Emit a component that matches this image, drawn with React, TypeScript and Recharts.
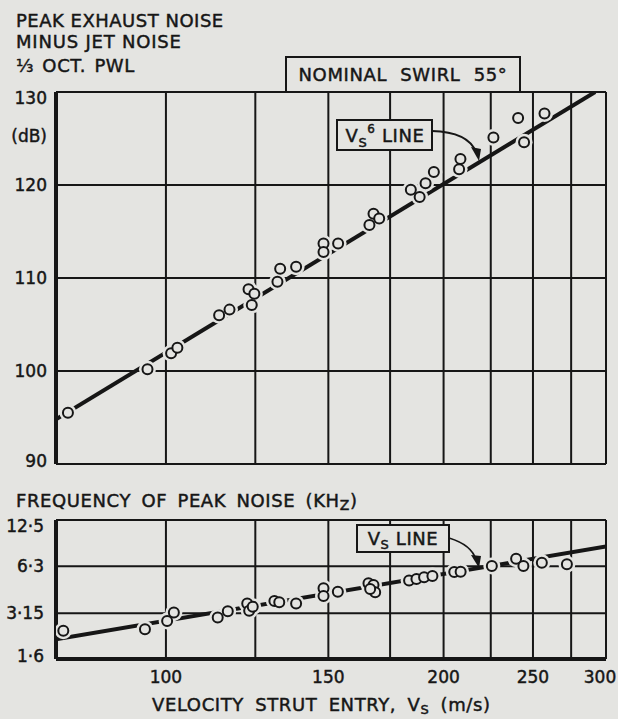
import React from 'react';
import { ComposedChart, Scatter, Line, XAxis, YAxis, CartesianGrid } from 'recharts';

// ---------- data ----------
const xGridTicks = [100, 125, 150, 175, 200, 225, 250, 275, 300];
const xTickLabels = [100, 150, 200, 250, 300];
const dbTicks = [90, 100, 110, 120, 130];
const freqTicks = [1.6, 3.15, 6.3, 12.5];
const freqTickLabels = ['1·6', '3·15', '6·3', '12·5'];

// peak exhaust noise minus jet noise, 1/3 oct PWL (dB) vs strut entry velocity (m/s)
const noisePoints = [
  { x: 78.3, y: 95.5 },
  { x: 95.5, y: 100.2 },
  { x: 101.3, y: 101.9 },
  { x: 102.9, y: 102.5 },
  { x: 114.2, y: 106.0 },
  { x: 117.2, y: 106.6 },
  { x: 122.9, y: 108.8 },
  { x: 124.7, y: 108.3 },
  { x: 123.9, y: 107.1 },
  { x: 132.1, y: 109.6 },
  { x: 133.0, y: 111.0 },
  { x: 138.4, y: 111.2 },
  { x: 148.2, y: 113.7 },
  { x: 148.2, y: 112.8 },
  { x: 153.7, y: 113.7 },
  { x: 166.2, y: 115.7 },
  { x: 167.9, y: 116.9 },
  { x: 170.3, y: 116.4 },
  { x: 184.3, y: 119.5 },
  { x: 188.4, y: 118.7 },
  { x: 191.2, y: 120.2 },
  { x: 195.2, y: 121.4 },
  { x: 207.9, y: 121.7 },
  { x: 208.6, y: 122.8 },
  { x: 226.5, y: 125.1 },
  { x: 240.9, y: 127.2 },
  { x: 244.5, y: 124.6 },
  { x: 257.3, y: 127.7 },
];
const v6Line = [
  { x: 76, y: 94.8 },
  { x: 292, y: 130 },
];

// frequency of peak noise (kHz) vs strut entry velocity (m/s)
const freqPoints = [
  { x: 77.4, y: 2.43 },
  { x: 94.9, y: 2.48 },
  { x: 100.3, y: 2.81 },
  { x: 102.0, y: 3.18 },
  { x: 113.8, y: 2.96 },
  { x: 116.7, y: 3.24 },
  { x: 122.5, y: 3.64 },
  { x: 123.1, y: 3.27 },
  { x: 124.2, y: 3.47 },
  { x: 131.1, y: 3.77 },
  { x: 132.7, y: 3.7 },
  { x: 138.4, y: 3.64 },
  { x: 148.2, y: 4.55 },
  { x: 148.2, y: 4.06 },
  { x: 153.6, y: 4.33 },
  { x: 165.8, y: 4.9 },
  { x: 167.9, y: 4.78 },
  { x: 168.6, y: 4.29 },
  { x: 166.5, y: 4.5 },
  { x: 183.5, y: 5.11 },
  { x: 186.9, y: 5.22 },
  { x: 190.5, y: 5.36 },
  { x: 194.5, y: 5.46 },
  { x: 205.4, y: 5.79 },
  { x: 208.7, y: 5.81 },
  { x: 225.6, y: 6.33 },
  { x: 239.7, y: 7.04 },
  { x: 244.1, y: 6.33 },
  { x: 255.6, y: 6.64 },
  { x: 272.1, y: 6.49 },
];
const vLine = [
  { x: 76, y: 2.14 },
  { x: 300, y: 8.45 },
];

// ---------- styles ----------
const BG = '#e4e4e1';
const INK = '#161616';
const FONT = '"DejaVu Sans", "Liberation Sans", sans-serif';

const Halo = (p: any) => <circle cx={p.cx} cy={p.cy} r={8.5} fill={BG} />;
const Ring = (p: any) => (
  <circle cx={p.cx} cy={p.cy} r={5} fill={BG} stroke={INK} strokeWidth={2} />
);

const inkText = { fill: INK, stroke: INK, strokeWidth: 0.45 } as const;

const makeYTick = (labels: (v: number) => string, max: number, min: number) => (props: any) => {
  const v = props.payload.value;
  const dy = v === max ? 6 : v === min ? -3 : 0;
  return (
    <text
      x={props.x}
      y={props.y + dy}
      textAnchor="end"
      dominantBaseline="central"
      fontFamily={FONT}
      fontSize={17}
      {...inkText}
    >
      {labels(v)}
    </text>
  );
};

const dbTick = makeYTick((v) => String(v), 130, 90);
const freqTick = makeYTick((v) => freqTickLabels[freqTicks.indexOf(v)] ?? String(v), 12.5, 1.6);

const NoTick = () => <g />;

const XTick = (props: any) => {
  const v = props.payload.value;
  if (!xTickLabels.includes(v)) return <g />;
  const dx = v === 300 ? -6 : 0;
  return (
    <text
      x={props.x + dx}
      y={props.y + 24}
      textAnchor="middle"
      fontFamily={FONT}
      fontSize={17}
      {...inkText}
    >
      {v}
    </text>
  );
};

const textStyle = {
  fontFamily: FONT,
  fontSize: 18,
  letterSpacing: 0.6,
  ...inkText,
} as const;

export default function App() {
  return (
    <div
      style={{
        position: 'absolute',
        left: 0,
        top: 0,
        width: 618,
        height: 719,
        background: BG,
        overflow: 'hidden',
      }}
    >
      <div style={{ position: 'absolute', left: 0, top: 0 }}>
        <ComposedChart width={618} height={480} margin={{ top: 92, right: 12, bottom: 16, left: 0 }}>
          <CartesianGrid stroke={INK} strokeWidth={2} />
          <XAxis
            dataKey="x"
            type="number"
            scale="log"
            domain={[76, 300]}
            allowDataOverflow
            ticks={xGridTicks}
            tick={NoTick}
            tickLine={false}
            tickSize={0}
            height={0}
            axisLine={{ stroke: INK, strokeWidth: 4 }}
          />
          <YAxis
            dataKey="y"
            type="number"
            domain={[90, 130]}
            allowDataOverflow
            ticks={dbTicks}
            tick={dbTick}
            tickLine={false}
            tickSize={0}
            tickMargin={9}
            width={56}
            axisLine={{ stroke: INK, strokeWidth: 4 }}
          />
          <Line
            data={v6Line}
            dataKey="y"
            type="linear"
            stroke={INK}
            strokeWidth={4}
            dot={false}
            activeDot={false}
            isAnimationActive={false}
          />
          <Scatter data={noisePoints} shape={Halo} isAnimationActive={false} />
          <Scatter data={noisePoints} shape={Ring} isAnimationActive={false} />
        </ComposedChart>
      </div>

      <div style={{ position: 'absolute', left: 0, top: 480 }}>
        <ComposedChart width={618} height={239} margin={{ top: 40, right: 12, bottom: 30, left: 0 }}>
          <CartesianGrid stroke={INK} strokeWidth={2} />
          <XAxis
            dataKey="x"
            type="number"
            scale="log"
            domain={[76, 300]}
            allowDataOverflow
            ticks={xGridTicks}
            tick={XTick}
            tickLine={false}
            tickSize={0}
            tickMargin={0}
            height={30}
            axisLine={{ stroke: INK, strokeWidth: 4 }}
          />
          <YAxis
            dataKey="y"
            type="number"
            scale="log"
            domain={[1.6, 12.5]}
            allowDataOverflow
            ticks={freqTicks}
            tick={freqTick}
            tickLine={false}
            tickSize={0}
            tickMargin={12}
            width={56}
            axisLine={{ stroke: INK, strokeWidth: 4 }}
          />
          <Line
            data={vLine}
            dataKey="y"
            type="linear"
            stroke={INK}
            strokeWidth={4}
            dot={false}
            activeDot={false}
            isAnimationActive={false}
          />
          <Scatter data={freqPoints} shape={Halo} isAnimationActive={false} />
          <Scatter data={freqPoints} shape={Ring} isAnimationActive={false} />
        </ComposedChart>
      </div>

      <svg
        width={618}
        height={719}
        style={{ position: 'absolute', left: 0, top: 0, pointerEvents: 'none' }}
      >
        {/* panel title */}
        <text x={16} y={27} {...textStyle} letterSpacing={0.5}>PEAK EXHAUST NOISE</text>
        <text x={16} y={48} {...textStyle} letterSpacing={0.8}>MINUS JET NOISE</text>
        <text x={16} y={72} {...textStyle} wordSpacing={2}>⅓ OCT. PWL</text>
        <text x={47} y={142} textAnchor="end" fontFamily={FONT} fontSize={17} {...inkText}>(dB)</text>

        {/* nominal swirl box */}
        <rect x={286} y={57} width={234} height={35} fill={BG} stroke={INK} strokeWidth={2} />
        <text x={403} y={81} textAnchor="middle" {...textStyle} wordSpacing={7}>NOMINAL SWIRL 55°</text>

        {/* Vs^6 line label */}
        <rect x={337} y={120} width={95} height={30} fill={BG} stroke={INK} strokeWidth={2} />
        <text x={385} y={142} textAnchor="middle" {...textStyle}>
          V<tspan fontSize={13} dy={5}>S</tspan>
          <tspan fontSize={12} dy={-14}>6</tspan>
          <tspan dy={9}> LINE</tspan>
        </text>
        <path d="M432,131 Q468,132 476,152" fill="none" stroke={INK} strokeWidth={1.8} />
        <polygon points="471,147 481,149 479,161" fill={INK} />

        {/* frequency panel title */}
        <text x={16} y={507} {...textStyle} wordSpacing={4}>
          FREQUENCY OF PEAK NOISE (KH<tspan fontSize={14} dy={3}>Z</tspan>
          <tspan dy={-3}>)</tspan>
        </text>

        {/* Vs line label */}
        <rect x={357} y={525} width={92} height={27} fill={BG} stroke={INK} strokeWidth={2} />
        <text x={403} y={545} textAnchor="middle" {...textStyle}>
          V<tspan fontSize={13} dy={4}>S</tspan>
          <tspan dy={-4}> LINE</tspan>
        </text>
        <path d="M449,538 Q472,545 476,560" fill="none" stroke={INK} strokeWidth={1.8} />
        <polygon points="471,555 481,556 479,568" fill={INK} />

        {/* x axis title */}
        <text x={152} y={711} {...textStyle} wordSpacing={5}>
          VELOCITY STRUT ENTRY, V<tspan fontSize={13} dy={3}>S</tspan>
          <tspan dy={-3}> (m/s)</tspan>
        </text>
      </svg>
    </div>
  );
}
